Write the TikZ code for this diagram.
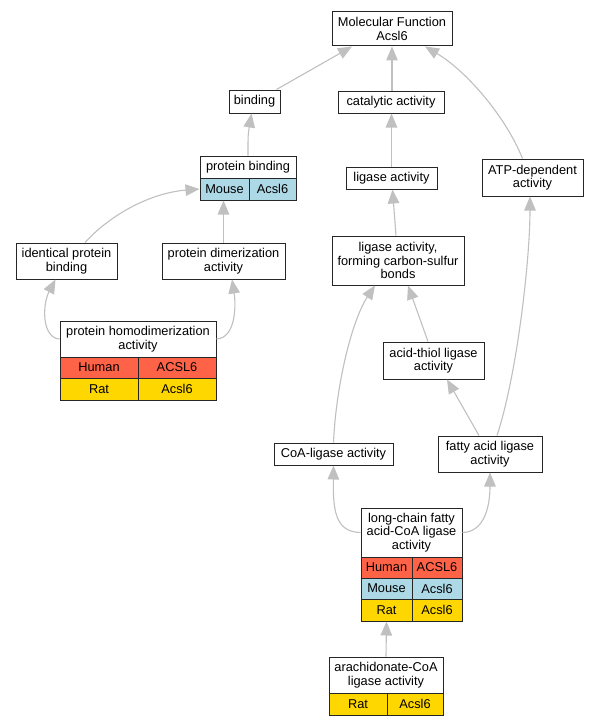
\documentclass[tikz,border=0pt]{standalone}
\usepackage{fontspec}
\setmainfont{Liberation Sans}
\usetikzlibrary{arrows.meta}
\definecolor{hum}{HTML}{FF6347}
\definecolor{mou}{HTML}{ADD8E6}
\definecolor{rat}{HTML}{FFD700}
\definecolor{edgegray}{HTML}{C0C0C0}
\newcommand\gofont{\fontsize{12.8}{13.6}\selectfont}
\tikzset{
  gobox/.style={draw=black!85, line width=1pt, fill=white, inner sep=0pt, align=center, font=\gofont},
  humancell/.style={gobox, fill=hum},
  mousecell/.style={gobox, fill=mou},
  ratcell/.style={gobox, fill=rat},
  golink/.style={draw=edgegray, line width=1.1pt, -{Triangle[length=14pt,width=11.5pt]}}
}
\begin{document}
\begin{tikzpicture}[x=1pt,y=-1pt]
\path[use as bounding box, fill=white] (0,0) rectangle (597,725);

% nodes
\node[gobox, minimum width=120pt, minimum height=34pt] (mf) at (392,29) {Molecular Function\\Acsl6};
\node[gobox, minimum width=106pt, minimum height=22pt] (cat) at (391,102) {catalytic activity};
\node[gobox, minimum width=91pt, minimum height=22pt] (lig) at (391.5,178) {ligase activity};
\node[gobox, minimum width=101pt, minimum height=37pt] (atp) at (532.5,177.5) {ATP-dependent\\activity};
\node[gobox, minimum width=51pt, minimum height=23pt] (bind) at (254.5,101.5) {binding};

\node[gobox, minimum width=96pt, minimum height=22pt] (pb) at (248,167) {protein binding};
\node[mousecell, minimum width=49pt, minimum height=22pt] (pbm) at (224.5,189) {Mouse};
\node[mousecell, minimum width=47pt, minimum height=22pt] (pbg) at (272.5,189) {Acsl6};

\node[gobox, minimum width=101pt, minimum height=36pt] (ident) at (66.5,261) {identical protein\\binding};
\node[gobox, minimum width=123pt, minimum height=36pt] (dim) at (223.5,261) {protein dimerization\\activity};

\node[gobox, minimum width=156pt, minimum height=36pt] (hd) at (138,339) {protein homodimerization\\activity};
\node[humancell, minimum width=78pt, minimum height=21pt] (hdh) at (99,367.5) {Human};
\node[humancell, minimum width=78pt, minimum height=21pt] (hdhg) at (177,367.5) {ACSL6};
\node[ratcell, minimum width=78pt, minimum height=22pt] (hdr) at (99,389) {Rat};
\node[ratcell, minimum width=78pt, minimum height=22pt] (hdrg) at (177,389) {Acsl6};

\node[gobox, minimum width=132pt, minimum height=49pt] (cs) at (398,260.5) {ligase activity,\\forming carbon-sulfur\\bonds};
\node[gobox, minimum width=101pt, minimum height=37pt] (at) at (433.5,360.5) {acid-thiol ligase\\activity};
\node[gobox, minimum width=119pt, minimum height=22pt] (coa) at (333.5,454) {CoA-ligase activity};
\node[gobox, minimum width=104pt, minimum height=36pt] (fa) at (490,454) {fatty acid ligase\\activity};

\node[gobox, minimum width=101pt, minimum height=49pt] (lc) at (411.5,532.5) {long-chain fatty\\acid-CoA ligase\\activity};
\node[humancell, minimum width=51pt, minimum height=21pt] (lch) at (386.5,567.5) {Human};
\node[humancell, minimum width=50pt, minimum height=21pt] (lchg) at (437,567.5) {ACSL6};
\node[mousecell, minimum width=51pt, minimum height=21pt] (lcm) at (386.5,588.5) {Mouse};
\node[mousecell, minimum width=50pt, minimum height=21pt] (lcmg) at (437,588.5) {Acsl6};
\node[ratcell, minimum width=51pt, minimum height=22pt] (lcr) at (386.5,610) {Rat};
\node[ratcell, minimum width=50pt, minimum height=22pt] (lcrg) at (437,610) {Acsl6};

\node[gobox, minimum width=114pt, minimum height=36pt] (ar) at (386,675) {arachidonate-CoA\\ligase activity};
\node[ratcell, minimum width=58pt, minimum height=22pt] (arr) at (358,704) {Rat};
\node[ratcell, minimum width=56pt, minimum height=22pt] (arrg) at (415,704) {Acsl6};

% edges
\draw[golink] ([xshift=22pt]bind.north) -- ([xshift=-40pt]mf.south);
\draw[golink] ([xshift=1pt]cat.north) -- ([xshift=1pt]cat.north |- mf.south);
\draw[golink] ([xshift=-10pt]atp.north) .. controls (505,115) and (465,70) .. ([xshift=33pt]mf.south);
\draw[golink] (lig.north) -- (lig.north |- cat.south);
\draw[golink] (pb.north) .. controls (248,135) .. ([xshift=-3pt]bind.south);
\draw[golink] ([xshift=-2pt]cs.north) -- ([xshift=1pt]lig.south);
\draw[golink] ([xshift=18.5pt]ident.north) .. controls (110,215) and (150,193) .. (pbm.west);
\draw[golink] (dim.north) -- (dim.north |- pbm.south);
\draw[golink] (hd.west) .. controls (42,338) and (42,305) .. ([xshift=-11pt]ident.south);
\draw[golink] (hd.east) .. controls (236,338) and (236,305) .. ([xshift=8.5pt]dim.south);
\draw[golink] ([xshift=-5.5pt]at.north) -- ([xshift=10pt]cs.south);
\draw[golink] (coa.north) .. controls (336,385) and (352,320) .. ([xshift=-23pt]cs.south);
\draw[golink] ([xshift=-11pt]fa.north) -- ([xshift=13.5pt]at.south);
\draw[golink] ([xshift=7pt]fa.north) .. controls (517,375) and (530,260) .. ([xshift=-2.5pt]atp.south);
\draw[golink] (lc.west) .. controls (335,532) and (333,510) .. (coa.south);
\draw[golink] (lc.east) .. controls (485,532) and (490,505) .. (fa.south);
\draw[golink] (ar.north) -- (lcr.south);
\end{tikzpicture}
\end{document}
